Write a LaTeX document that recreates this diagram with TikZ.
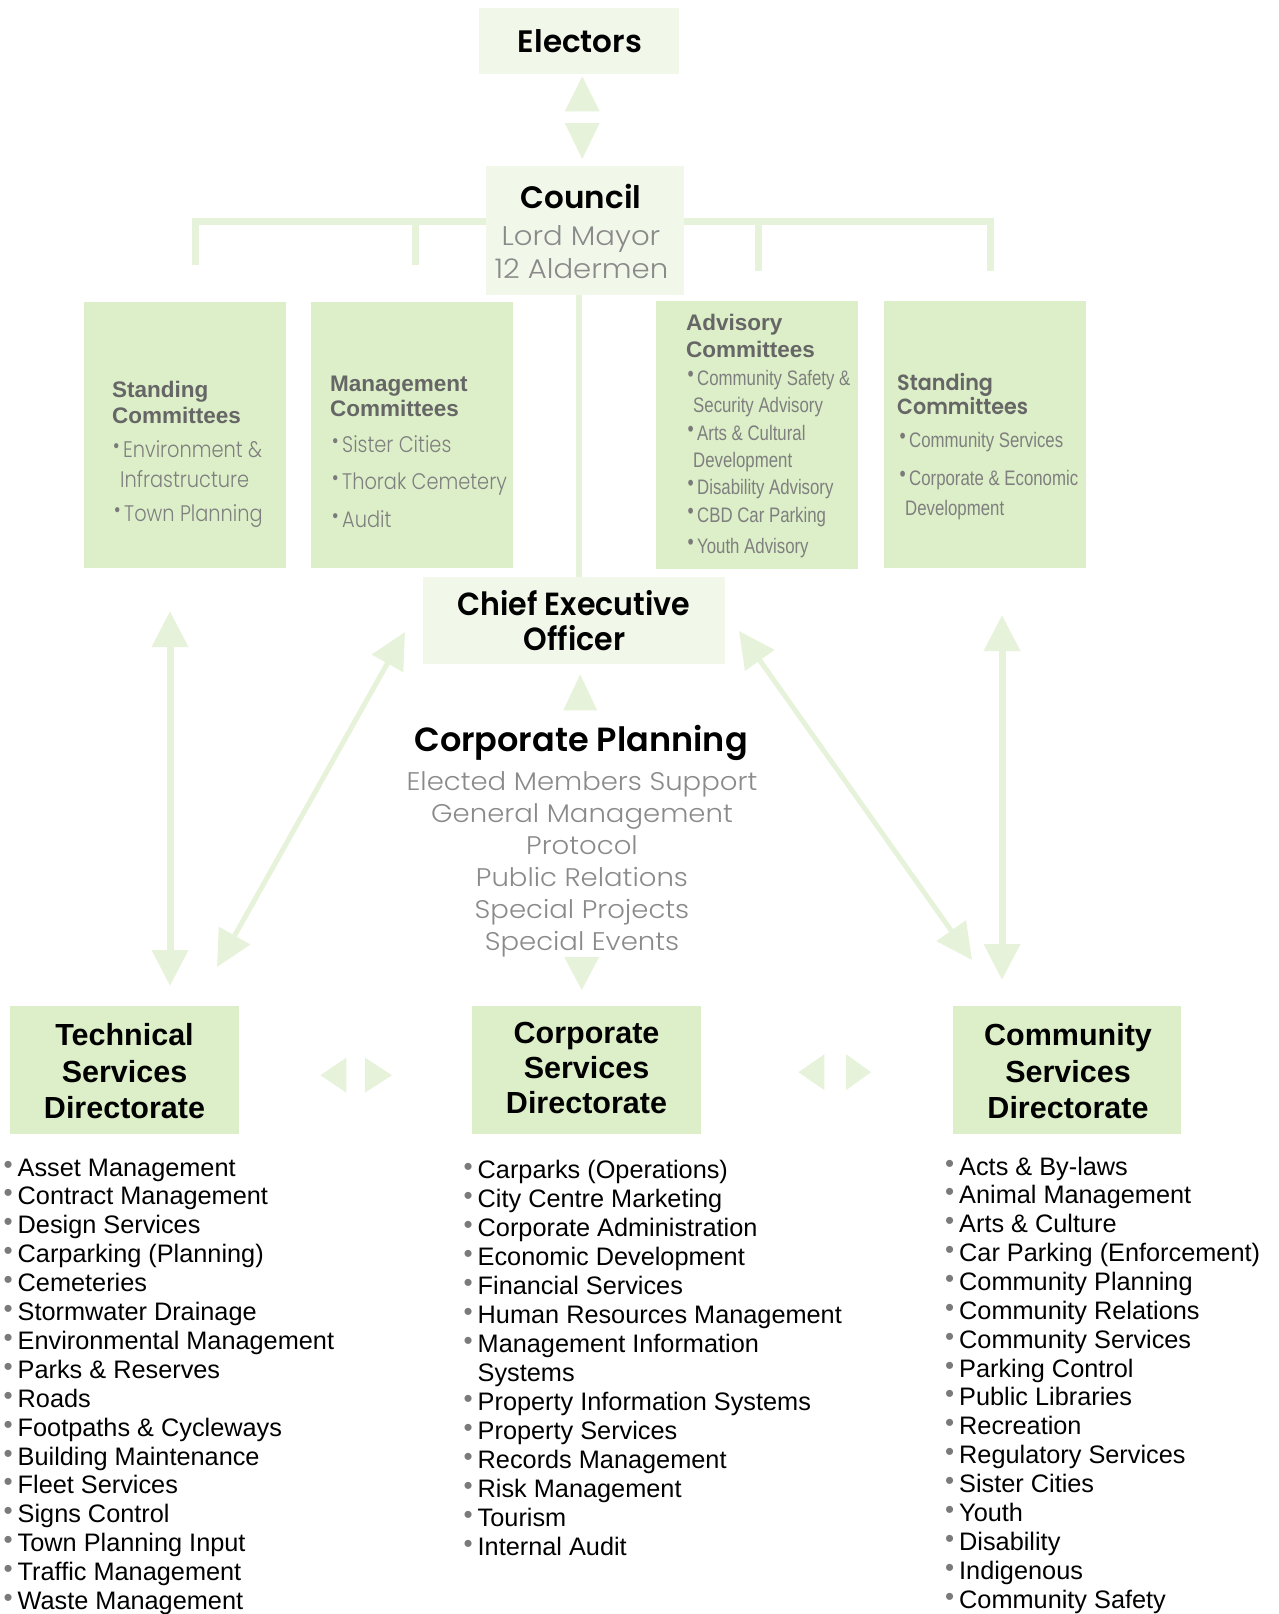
\documentclass[tikz,border=0pt]{standalone}
\usepackage{fontspec}
\setmainfont{Liberation Sans}
\newfontfamily\cgb{Poppins SemiBold}
\newfontfamily\cgl{Poppins Light}
\newfontfamily\cglw{Poppins Light}[FakeStretch=1.08]
\newfontfamily\cgln{Poppins Light}[FakeStretch=0.86]
\newfontfamily\cgbn{Poppins SemiBold}[FakeStretch=0.94]
\newfontfamily\arn{Liberation Sans}[FakeStretch=0.8]
\usetikzlibrary{arrows.meta,calc,backgrounds}
\definecolor{boxdark}{HTML}{DDEFC8}
\definecolor{boxlight}{HTML}{F1F8EA}
\definecolor{arrowc}{HTML}{E6F3DA}
\definecolor{txtgray}{HTML}{8A8A8A}
\definecolor{titlegray}{HTML}{666666}
\definecolor{itemgray}{HTML}{7F7F7F}
\definecolor{bulgray}{HTML}{7A7A7A}
\newcommand{\lbul}{\llap{\textcolor{bulgray}{\fontsize{26pt}{26pt}\selectfont\raisebox{3pt}{•}}\hspace{5pt}}}
\newcommand{\cbul}{\llap{\textcolor{bulgray}{\fontsize{22pt}{22pt}\selectfont\raisebox{3.5pt}{•}}\hspace{3.5pt}}}
\begin{document}
\begin{tikzpicture}[x=1pt,y=-1pt,
  lbox/.style={fill=boxlight, inner sep=0pt, anchor=north west},
  dbox/.style={fill=boxdark, inner sep=0pt, anchor=north west},
  lbl/.style={inner sep=0pt, anchor=base},
  lblw/.style={inner sep=0pt, anchor=base west},
  bigb/.style={lbl, font=\cgb\fontsize{31pt}{31pt}\selectfont},
  grayl/.style={lbl, text=txtgray, font=\cglw\fontsize{25.5pt}{25.5pt}\selectfont},
  dirt/.style={lbl, font=\bfseries\fontsize{30.5pt}{30.5pt}\selectfont},
  item/.style={lblw, font=\fontsize{25.3pt}{25.3pt}\selectfont},
  ctitle/.style={lblw, text=titlegray, font=\bfseries\fontsize{22.5pt}{22.5pt}\selectfont},
  ctitleb/.style={lblw, text=titlegray, font=\cgbn\fontsize{22pt}{22pt}\selectfont},
  citemg/.style={lblw, text=itemgray, font=\cgln\fontsize{22.5pt}{22.5pt}\selectfont},
  citema/.style={lblw, text=itemgray, font=\arn\fontsize{21pt}{21pt}\selectfont},
  conn/.style={draw=arrowc, line width=7pt},
  dbl/.style={draw=arrowc, line width=#1, {Triangle[width=35pt,length=36pt]}-{Triangle[width=35pt,length=36pt]}},
  tri/.style={fill=arrowc}]
\useasboundingbox (0,0) rectangle (1278,1614);

% ---------- boxes ----------
\node[lbox, minimum width=200pt, minimum height=66pt] (electors) at (479,8) {};
\node[lbox, minimum width=198pt, minimum height=129pt] (council) at (486,166) {};
\node[dbox, minimum width=202pt, minimum height=266pt] (sc1) at (84,302) {};
\node[dbox, minimum width=202pt, minimum height=266pt] (mc) at (311,302) {};
\node[dbox, minimum width=202pt, minimum height=268pt] (ac) at (656,301) {};
\node[dbox, minimum width=202pt, minimum height=267pt] (sc2) at (884,301) {};
\node[lbox, minimum width=302pt, minimum height=87pt] (ceo) at (423,577) {};
\node[dbox, minimum width=229pt, minimum height=128pt] (tech) at (10,1006) {};
\node[dbox, minimum width=229pt, minimum height=128pt] (corp) at (472,1006) {};
\node[dbox, minimum width=228pt, minimum height=128pt] (comm) at (953,1006) {};

% ---------- top texts ----------
\node[bigb] (electorsT) at (580,52) {Electors};
\node[bigb] (councilT) at (581,208) {Council};
\node[lbl, text=txtgray, font=\cglw\fontsize{27pt}{27pt}\selectfont] (mayor) at (581,245) {Lord Mayor};
\node[lbl, text=txtgray, font=\cglw\fontsize{27pt}{27pt}\selectfont] (alder) at (581.5,278) {12 Aldermen};

% ---------- committee boxes ----------
\node[ctitle] (sc1a) at (112,397) {Standing};
\node[ctitle] (sc1b) at (112,423) {Committees};
\node[citemg] (sc1c) at (123,457) {\cbul Environment \&};
\node[citemg] (sc1d) at (120,487) {Infrastructure};
\node[citemg] (sc1e) at (124,521) {\cbul Town Planning};

\node[ctitle] (mca) at (330,391) {Management};
\node[ctitle] (mcb) at (330,416) {Committees};
\node[citemg] (mcc) at (342,452) {\cbul Sister Cities};
\node[citemg] (mcd) at (342,489) {\cbul Thorak Cemetery};
\node[citemg] (mce) at (342,527) {\cbul Audit};

\node[ctitle] (aca) at (686,330) {Advisory};
\node[ctitle] (acb) at (686,357) {Committees};
\node[citema] (acc) at (697,385) {\cbul Community Safety \&};
\node[citema] (acd) at (693,412) {Security Advisory};
\node[citema] (ace) at (697,440) {\cbul Arts \& Cultural};
\node[citema] (acf) at (693,467) {Development};
\node[citema] (acg) at (697,494) {\cbul Disability Advisory};
\node[citema] (ach) at (697,522) {\cbul CBD Car Parking};
\node[citema] (aci) at (697,553) {\cbul Youth Advisory};

\node[ctitleb] (sc2a) at (897,390) {Standing};
\node[ctitleb] (sc2b) at (897,414) {Committees};
\node[citema] (sc2c) at (909,447) {\cbul Community Services};
\node[citema] (sc2d) at (909,485) {\cbul Corporate \& Economic};
\node[citema] (sc2e) at (905,515) {Development};

% ---------- CEO and corporate planning ----------
\node[lbl, font=\cgbn\fontsize{32pt}{32pt}\selectfont] (ceoA) at (574,615) {Chief Executive};
\node[lbl, font=\cgbn\fontsize{32pt}{32pt}\selectfont] (ceoB) at (574.5,650) {Officer};
\node[lbl, font=\cgb\fontsize{33.5pt}{33.5pt}\selectfont] (cplan) at (581,751) {Corporate Planning};
\foreach \itm [count=\i from 0] in {Elected Members Support, General Management, Protocol, Public Relations, Special Projects, Special Events}
  \node[grayl] (cp\i) at (582,{790+\i*32}) {\itm};

% ---------- directorate titles ----------
\node[dirt] (techA) at (124.5,1045) {Technical};
\node[dirt] (techB) at (124.5,1082) {Services};
\node[dirt] (techC) at (124.5,1118) {Directorate};
\node[dirt] (corpA) at (586.5,1043) {Corporate};
\node[dirt] (corpB) at (586.5,1078) {Services};
\node[dirt] (corpC) at (586.5,1113) {Directorate};
\node[dirt] (commA) at (1068,1045) {Community};
\node[dirt] (commB) at (1068,1082) {Services};
\node[dirt] (commC) at (1068,1118) {Directorate};

% ---------- lists ----------
\foreach \itm [count=\i from 0] in {Asset Management, Contract Management, Design Services, Carparking (Planning), Cemeteries, Stormwater Drainage, Environmental Management, Parks \& Reserves, Roads, Footpaths \& Cycleways, Building Maintenance, Fleet Services, Signs Control, Town Planning Input, Traffic Management, Waste Management}
  \node[item] (tl\i) at (17.5,{1176+\i*28.9}) {\lbul\itm};
\foreach \itm/\bb [count=\i from 0] in {Carparks (Operations)/1, City Centre Marketing/1, Corporate Administration/1, Economic Development/1, Financial Services/1, Human Resources Management/1, Management Information/1, Systems/0, Property Information Systems/1, Property Services/1, Records Management/1, Risk Management/1, Tourism/1, Internal Audit/1}
  \node[item] (cl\i) at (477.5,{1178+\i*29.05}) {\ifnum\bb=1 \lbul\fi\itm};
\foreach \itm [count=\i from 0] in {Acts \& By-laws, Animal Management, Arts \& Culture, Car Parking (Enforcement), Community Planning, Community Relations, Community Services, Parking Control, Public Libraries, Recreation, Regulatory Services, Sister Cities, Youth, Disability, Indigenous, Community Safety}
  \node[item] (ml\i) at (959,{1175+\i*28.87}) {\lbul\itm};

% ---------- connectors (behind) ----------
\coordinate (bar) at (0,221);
\coordinate (dA) at (195,265);
\coordinate (dB) at (415,265);
\coordinate (dC) at (758,271);
\coordinate (dD) at (990,271);
\coordinate (cl) at (579,0);
\coordinate (lvt) at (170,611);
\coordinate (lvb) at (170,986);
\coordinate (rvt) at (1002,615);
\coordinate (rvb) at (1002,980);
\coordinate (ldt) at (405,632);
\coordinate (ldb) at (217,967);
\coordinate (rdt) at (739,631);
\coordinate (rdb) at (972,960);
\begin{pgfonlayer}{background}
\draw[conn, line join=miter] (dA) -- (dA |- bar) -- (council.west |- bar);
\draw[conn] (dB) -- (dB |- bar);
\draw[conn, line join=miter] (dD) -- (dD |- bar) -- (council.east |- bar);
\draw[conn] (dC) -- (dC |- bar);
\draw[conn, line width=6pt] (council.south -| cl) -- (ceo.north -| cl);
\draw[dbl=7pt] (lvt) -- (lvb);
\draw[dbl=7pt] (rvt) -- (rvb);
\draw[dbl=5pt] (ldt) -- (ldb);
\draw[dbl=5pt] (rdt) -- (rdb);
\end{pgfonlayer}

% ---------- triangle pairs ----------
\fill[tri] ($(electors.south)+(3,2)$) -- ++(17.5,35) -- ++(-35,0) -- cycle;
\fill[tri] ($(council.north)+(-3,-7)$) -- ++(17.5,-36) -- ++(-35,0) -- cycle;
\fill[tri] ($(ceo.south)+(6,10)$) -- ++(17,36) -- ++(-34,0) -- cycle;
\fill[tri] ($(corp.north)+(-5,-16)$) -- ++(17.5,-33) -- ++(-35,0) -- cycle;
\fill[tri] ($(tech.east)+(81,5)$) -- ++(26,-17.5) -- ++(0,35) -- cycle;
\fill[tri] ($(corp.west)+(-80,5)$) -- ++(-27,-17.5) -- ++(0,35) -- cycle;
\fill[tri] ($(corp.east)+(97,2)$) -- ++(26,-18) -- ++(0,36) -- cycle;
\fill[tri] ($(comm.west)+(-82,2)$) -- ++(-25,-18) -- ++(0,36) -- cycle;
\end{tikzpicture}
\end{document}
